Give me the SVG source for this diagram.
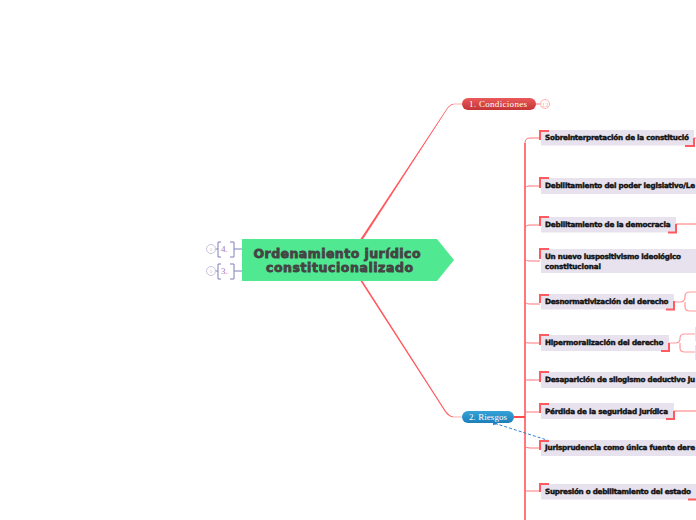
<svg xmlns="http://www.w3.org/2000/svg" width="696" height="520" viewBox="0 0 696 520">
<style>
.c{fill:none;stroke:#ff7478;stroke-width:1}
.s{fill:none;stroke:#ff9a9d;stroke-width:1.200}
.t{fill:none;stroke:#ff5a5f;stroke-width:2}
.b{fill:#e8e2ee}
.l{font:bold 7.200px "DejaVu Sans",sans-serif;fill:#111;stroke:#111;stroke-width:.4}
.p{font:9px "Liberation Serif",serif;fill:#fff}
.n{font:9px "Liberation Serif",serif;fill:#a878b0}
.m{fill:#fff;stroke:#c8c4e0;stroke-width:1}
.r{font:bold 12.500px "DejaVu Sans",sans-serif;fill:#444;stroke:#444;stroke-width:.8}
.k{fill:none;stroke:#8080b8;stroke-width:1}
</style>
<defs>
<linearGradient id="red" x1="0" y1="0" x2="0" y2="1"><stop offset="0" stop-color="#ea5a5a"/><stop offset="1" stop-color="#c43434"/></linearGradient>
<linearGradient id="blue" x1="0" y1="0" x2="0" y2="1"><stop offset="0" stop-color="#36a3d8"/><stop offset="1" stop-color="#1e7fb8"/></linearGradient>
<marker id="ah" markerWidth="5" markerHeight="5" refX="1" refY="2.500" orient="auto"><path d="M5 0L0 2.500L5 5z" fill="#2f7fd0"/></marker>
</defs>
<g id="connectors">
<path d="M360.500 239L447.500 107.500Q450.500 103.700 454 103.700H462V104.300H454Q451 104.300 448 108L362.500 240z" fill="#ff5a5f"/>
<path d="M360.500 281L444.800 411.500Q448.500 417.300 454 417.300H462V416.700H454Q450 416.700 445.800 411L362.500 281z" fill="#ff5a5f"/>
<path d="M514 417H525" fill="none" stroke="#ff4a4f" stroke-width="2"/>
<path d="M525 520V143" fill="none" stroke="#ff4a4f" stroke-width="1.500"/>
<path class="c" d="M525 143Q525 138 530 138H540M525 189Q525 186 530 186H540M525 229Q525 225 530 225H540M525 258Q525 261 530 261H540M525 301Q525 304 530 304H540M525 342Q525 343 530 343H540M525 380Q525 380 530 380H540M525 412Q525 412 530 412H540M525 446Q525 448 530 448H540M525 491Q525 491 530 491H540"/>
<path class="c" d="M536 104H540M694 138H696M676 224H696M674 411H696"/>
<path class="s" d="M674 302H680Q685 302 685 297V296Q685 292 690 292H696M685 302V307Q685 311 690 311H696M669 343H675Q680 343 680 339V338Q680 334 685 334H696M680 343V348Q680 352 685 352H696"/>
<path d="M550 441L497 424" fill="none" stroke="#2f7fd0" stroke-width="1" stroke-dasharray="3 2" marker-end="url(#ah)"/>
<path class="k" d="M215.500 249H218M215.500 271H218M234 249H242M234 271H242"/>
</g>
<g id="root"><polygon points="242,239 437,239 454,260 437,281 242,281" fill="#50e991"/>
<text class="r" x="253.500" y="258" textLength="167" lengthAdjust="spacing">Ordenamiento jurídico</text>
<text class="r" x="266" y="272" textLength="147" lengthAdjust="spacing">constitucionalizado</text></g>
<g id="n4"><circle class="m" cx="211" cy="249" r="4.500"/><text x="211" y="251" text-anchor="middle" font-family="Liberation Serif,serif" font-size="5" fill="#b0aacc">1</text><path class="k" d="M221 242H218V257H221M230 242H234V257H230"/><text class="n" x="221" y="252">4.</text></g>
<g id="n3"><circle class="m" cx="211" cy="271" r="4.500"/><text x="211" y="273" text-anchor="middle" font-family="Liberation Serif,serif" font-size="5" fill="#b0aacc">1</text><path class="k" d="M221 264H218V279H221M230 264H234V279H230"/><text class="n" x="221" y="274">3.</text></g>
<g id="cond"><rect x="462" y="98" width="74" height="12" rx="6" fill="url(#red)"/><text class="p" x="469" y="107" textLength="58">1. Condiciones</text>
<circle cx="545" cy="104" r="4.500" fill="#fff" stroke="#ffb0b0"/><text x="545" y="106.500" text-anchor="middle" font-family="Liberation Serif,serif" font-size="7" fill="#ffb0b0">12</text></g>
<g id="riesgos"><rect x="462" y="411" width="52" height="12" rx="6" fill="url(#blue)"/><text class="p" x="469" y="420" textLength="38">2. Riesgos</text></g>
<g id="t1"><rect class="b" x="541" y="130" width="153" height="15.500"/><path class="t" d="M540 140V131H549M685 146H694V138"/><text class="l" x="545" y="140" textLength="144">Sobreinterpretación de la constitució</text></g>
<g id="t2"><rect class="b" x="541" y="178" width="155" height="16"/><path class="t" d="M540 188V178H549"/><text class="l" x="545" y="188" textLength="150">Debilitamiento del poder legislativo/Le</text></g>
<g id="t3"><rect class="b" x="541" y="217" width="135" height="15.500"/><path class="t" d="M540 226V217H549M668 232.500H676V224"/><text class="l" x="545" y="227" textLength="125.500">Debilitamiento de la democracia</text></g>
<g id="t4"><rect class="b" x="541" y="249" width="155" height="24"/><path class="t" d="M540 259V249H549"/><text class="l" x="545" y="259" textLength="136">Un nuevo iuspositivismo ideológico</text><text class="l" x="545" y="269" textLength="56">constitucional</text></g>
<g id="t5"><rect class="b" x="541" y="294" width="133" height="15.500"/><path class="t" d="M540 303V295H549M666 309.500H674V301"/><text class="l" x="545" y="304" textLength="123.500">Desnormativización del derecho</text></g>
<g id="t6"><rect class="b" x="541" y="335" width="128" height="16"/><path class="t" d="M540 345V335H549M661 351H669V343"/><text class="l" x="545" y="345" textLength="118.500">Hipermoralización del derecho</text></g>
<g id="t7"><rect class="b" x="541" y="372" width="155" height="16"/><path class="t" d="M540 382V372H549"/><text class="l" x="545" y="382" textLength="150">Desaparición de silogismo deductivo ju</text></g>
<g id="t8"><rect class="b" x="541" y="403" width="133" height="16"/><path class="t" d="M540 413V404H549M666 419H674V411"/><text class="l" x="545" y="414" textLength="123">Pérdida de la seguridad jurídica</text></g>
<g id="t9"><rect class="b" x="541" y="440" width="155" height="16"/><path class="t" d="M540 450V441H549"/><text class="l" x="545" y="450" textLength="150">Jurisprudencia como única fuente dere</text></g>
<g id="t10"><rect class="b" x="541" y="484" width="155" height="15.500"/><path class="t" d="M540 492V484H549M688 499.500H696"/><text class="l" x="545" y="494" textLength="146">Supresión o debilitamiento del estado</text></g>
<g id="stubs"><rect class="b" x="695" y="327" width="1" height="14"/><rect class="b" x="695" y="345" width="1" height="15"/></g>
</svg>
